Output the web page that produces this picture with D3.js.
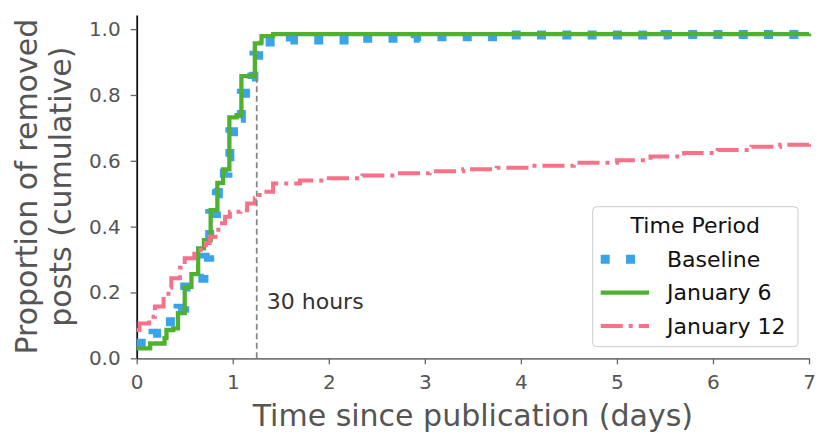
<!DOCTYPE html>
<html lang="en">
<head>
<meta charset="UTF-8">
<title>Removed posts - cumulative</title>
<script src="https://d3js.org/d3.v7.min.js"></script>
<style>
    body { margin: 0; background: #fff; font-family: "DejaVu Sans", sans-serif; }
    .tick text { fill: #555; font-size: 20px; font-family: "DejaVu Sans", sans-serif; }
    .tick line { stroke: #666; stroke-width: 1.3px; }
</style>
</head>
<body>
<svg width="831" height="446"></svg>
<script>
    // cumulative share of removed posts, [days, proportion]
    const baseline = [
        [0, 0.046], [0.17, 0.076], [0.30, 0.111], [0.43, 0.152], [0.50, 0.217],
        [0.64, 0.243], [0.70, 0.307], [0.76, 0.44], [0.83, 0.50], [0.85, 0.562],
        [0.95, 0.612], [0.97, 0.688], [1.06, 0.729], [1.09, 0.805], [1.20, 0.855],
        [1.22, 0.921], [1.27, 0.955], [1.34, 0.961], [1.6, 0.967], [2.3, 0.972],
        [2.9, 0.977], [3.9, 0.982], [5.5, 0.984], [7, 0.985]
    ];
    const jan6 = [
        [0, 0.030], [0.14, 0.045], [0.29, 0.061], [0.31, 0.086], [0.38, 0.091],
        [0.43, 0.137], [0.50, 0.217], [0.57, 0.256], [0.64, 0.334], [0.70, 0.359],
        [0.77, 0.450], [0.84, 0.533], [0.90, 0.574], [0.965, 0.732], [1.04, 0.739],
        [1.09, 0.857], [1.23, 0.957], [1.29, 0.959], [1.30, 0.979], [1.42, 0.985],
        [7, 0.987]
    ];
    const jan12 = [
        [0, 0.086], [0.03, 0.106], [0.13, 0.126], [0.19, 0.157], [0.28, 0.187],
        [0.33, 0.215], [0.36, 0.243], [0.45, 0.275], [0.50, 0.304], [0.60, 0.318],
        [0.64, 0.329], [0.72, 0.350], [0.76, 0.369], [0.85, 0.41], [0.92, 0.43],
        [0.97, 0.445], [1.08, 0.45], [1.15, 0.47], [1.23, 0.486], [1.28, 0.506],
        [1.42, 0.531], [1.7, 0.540], [2.0, 0.547], [2.35, 0.555], [2.7, 0.562],
        [3.05, 0.568], [3.4, 0.574], [3.75, 0.579], [4.1, 0.585], [4.55, 0.594],
        [5.0, 0.602], [5.35, 0.613], [5.7, 0.624], [6.05, 0.633], [6.4, 0.643],
        [6.7, 0.649], [7.0, 0.655]
    ];
    const seriesNames = ["Baseline", "January 6", "January 12"];
    const xTicks = [0, 1, 2, 3, 4, 5, 6, 7];
    const yTicks = [0, 0.2, 0.4, 0.6, 0.8, 1.0];
    const cutoffDays = 1.25;   // 30 hours
    const cutoffTop = 0.86;

    const svg = d3.select("svg");
    const x = d3.scaleLinear().domain([0, 7]).range([136.7, 809]);
    const y = d3.scaleLinear().domain([0, 1.043]).range([358.3, 15]);

    const styles = {
        "Baseline":   { color: "#3ba3ec", width: 9, dash: "9 16.3" },
        "January 6":  { color: "#50b131", width: 4.3, dash: null },
        "January 12": { color: "#f77189", width: 4, dash: "22 6 4 6" }
    };

    // axes
    const xAxis = svg.append("g")
        .attr("transform", `translate(0,${y(0)})`)
        .call(d3.axisBottom(x).tickValues(xTicks).tickFormat(d3.format("d"))
            .tickSize(6).tickSizeOuter(0).tickPadding(11));
    xAxis.select(".domain").attr("stroke", "#777").attr("stroke-width", 1.8);

    const yAxis = svg.append("g")
        .attr("transform", `translate(${x(0)},0)`)
        .call(d3.axisLeft(y).tickValues(yTicks).tickFormat(d3.format(".1f"))
            .tickSize(6).tickSizeOuter(0).tickPadding(10));
    yAxis.select(".domain").attr("stroke", "#111").attr("stroke-width", 1.8);

    // lines
    const line = d3.line()
        .x(d => x(d[0]))
        .y(d => y(d[1]))
        .curve(d3.curveStepAfter);

    [baseline, jan6, jan12].forEach((data, i) => {
        const s = styles[seriesNames[i]];
        svg.append("path")
            .datum(data)
            .attr("fill", "none")
            .attr("stroke", s.color)
            .attr("stroke-width", s.width)
            .attr("stroke-dasharray", s.dash)
            .attr("d", line);
    });

    // 30 hour marker
    svg.append("line")
        .attr("x1", x(cutoffDays)).attr("x2", x(cutoffDays))
        .attr("y1", y(0)).attr("y2", y(cutoffTop))
        .attr("stroke", "#888")
        .attr("stroke-width", 1.8)
        .attr("stroke-dasharray", "6 3.5");

    svg.append("text")
        .attr("x", x(cutoffDays) + 10)
        .attr("y", 309)
        .style("font-size", "22px")
        .style("fill", "#333")
        .text("30 hours");

    // axis titles
    svg.append("text")
        .attr("x", (x(0) + x(7)) / 2)
        .attr("y", 426)
        .attr("text-anchor", "middle")
        .style("font-size", "30px")
        .style("fill", "#555")
        .text("Time since publication (days)");

    const yMid = (y(0) + y(1.043)) / 2;
    ["Proportion of removed", "posts (cumulative)"].forEach((t, i) => {
        svg.append("text")
            .attr("transform", `translate(${37 + i * 34},${yMid}) rotate(-90)`)
            .attr("text-anchor", "middle")
            .style("font-size", "30px")
            .style("fill", "#555")
            .text(t);
    });

    // legend
    const legend = svg.append("g").attr("transform", "translate(592.7,206.7)");
    legend.append("rect")
        .attr("width", 205.3).attr("height", 140)
        .attr("rx", 4)
        .attr("fill", "white").attr("fill-opacity", 0.8)
        .attr("stroke", "#ccc").attr("stroke-width", 1);
    legend.append("text")
        .attr("x", 102.6).attr("y", 26.5)
        .attr("text-anchor", "middle")
        .style("font-size", "22px")
        .style("fill", "#111")
        .text("Time Period");

    const items = legend.selectAll(".legend-item")
        .data(seriesNames)
        .enter()
        .append("g")
        .attr("class", "legend-item")
        .attr("transform", (d, i) => `translate(0, ${52.6 + i * 33.3})`);

    items.append("line")
        .attr("x1", 8).attr("x2", 56.3)
        .attr("stroke", d => styles[d].color)
        .attr("stroke-width", d => styles[d].width)
        .attr("stroke-dasharray", d => styles[d].dash);

    items.append("text")
        .attr("x", 74.3)
        .attr("y", 7.8)
        .style("font-size", "22px")
        .style("fill", "#111")
        .text(d => d);
</script>
</body>
</html>
